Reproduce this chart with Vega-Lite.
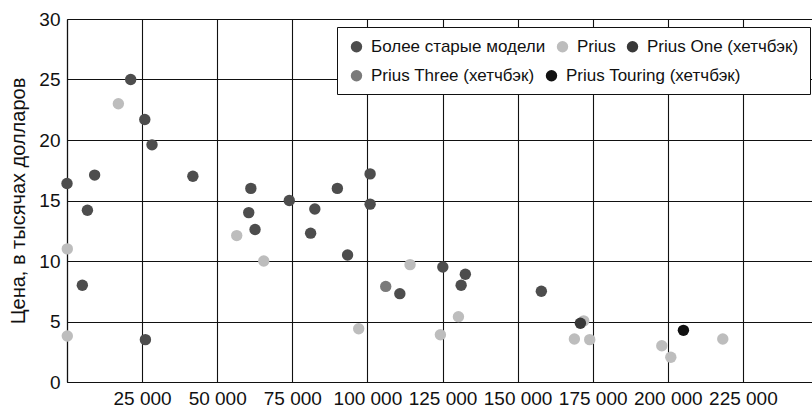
{
  "$schema": "https://vega.github.io/schema/vega-lite/v6.json",
  "width": 745,
  "height": 363,
  "autosize": {"type": "none"},
  "padding": {"left": 67, "top": 19, "right": 0, "bottom": 27},
  "background": "white",
  "config": {
    "font": "Liberation Sans",
    "view": {"stroke": null},
    "axis": {
      "domainColor": "#111",
      "domainWidth": 1.2,
      "gridColor": "#111",
      "gridOpacity": 1,
      "gridWidth": 1.1,
      "ticks": false,
      "labelFontSize": 19,
      "labelColor": "#111",
      "titleFontSize": 20,
      "titleFontWeight": "normal",
      "titleColor": "#111"
    },
    "legend": {
      "labelFontSize": 17,
      "labelColor": "#111",
      "labelLimit": 400,
      "symbolType": "circle",
      "symbolSize": 130,
      "symbolOpacity": 1,
      "symbolStrokeWidth": 0,
      "labelOffset": 6,
      "columnPadding": 8,
      "padding": 11
    }
  },
  "data": {
    "values": [
      {"g": "Более старые модели", "km": 0, "p": 16.4},
      {"g": "Более старые модели", "km": 9200, "p": 17.1},
      {"g": "Более старые модели", "km": 21200, "p": 25.0},
      {"g": "Более старые модели", "km": 25900, "p": 21.7},
      {"g": "Более старые модели", "km": 28300, "p": 19.6},
      {"g": "Более старые модели", "km": 41900, "p": 17.0},
      {"g": "Более старые модели", "km": 6800, "p": 14.2},
      {"g": "Более старые модели", "km": 5100, "p": 8.0},
      {"g": "Более старые модели", "km": 26100, "p": 3.5},
      {"g": "Более старые модели", "km": 61200, "p": 16.0},
      {"g": "Более старые модели", "km": 60500, "p": 14.0},
      {"g": "Более старые модели", "km": 62600, "p": 12.6},
      {"g": "Более старые модели", "km": 74000, "p": 15.0},
      {"g": "Более старые модели", "km": 82500, "p": 14.3},
      {"g": "Более старые модели", "km": 81100, "p": 12.3},
      {"g": "Более старые модели", "km": 90000, "p": 16.0},
      {"g": "Более старые модели", "km": 100900, "p": 17.2},
      {"g": "Более старые модели", "km": 100900, "p": 14.7},
      {"g": "Более старые модели", "km": 93400, "p": 10.5},
      {"g": "Более старые модели", "km": 125100, "p": 9.5},
      {"g": "Более старые модели", "km": 132600, "p": 8.9},
      {"g": "Более старые модели", "km": 131200, "p": 8.0},
      {"g": "Более старые модели", "km": 110800, "p": 7.3},
      {"g": "Более старые модели", "km": 157900, "p": 7.5},
      {"g": "Prius", "km": 100, "p": 11.0},
      {"g": "Prius", "km": 100, "p": 3.8},
      {"g": "Prius", "km": 17100, "p": 23.0},
      {"g": "Prius", "km": 56500, "p": 12.1},
      {"g": "Prius", "km": 65500, "p": 10.0},
      {"g": "Prius", "km": 114200, "p": 9.7},
      {"g": "Prius", "km": 97100, "p": 4.4},
      {"g": "Prius", "km": 124300, "p": 3.9},
      {"g": "Prius", "km": 130300, "p": 5.4},
      {"g": "Prius", "km": 172000, "p": 5.05},
      {"g": "Prius", "km": 168900, "p": 3.55},
      {"g": "Prius", "km": 174000, "p": 3.5},
      {"g": "Prius", "km": 198000, "p": 3.0},
      {"g": "Prius", "km": 201000, "p": 2.05},
      {"g": "Prius", "km": 218300, "p": 3.55},
      {"g": "Prius One (хетчбэк)", "km": 170900, "p": 4.85},
      {"g": "Prius Three (хетчбэк)", "km": 106100, "p": 7.9},
      {"g": "Prius Touring (хетчбэк)", "km": 205200, "p": 4.27}
    ]
  },
  "encoding": {
    "x": {
      "field": "km",
      "type": "quantitative",
      "scale": {"domain": [0, 248000], "nice": false, "zero": true},
      "axis": {
        "title": null,
        "values": [0, 25000, 50000, 75000, 100000, 125000, 150000, 175000, 200000, 225000],
        "labelExpr": "datum.value == 0 ? '' : replace(format(datum.value, ','), ',', ' ')",
        "labelPadding": 7
      }
    },
    "y": {
      "field": "p",
      "type": "quantitative",
      "scale": {"domain": [0, 30], "nice": false},
      "axis": {
        "title": "Цена, в тысячах долларов",
        "values": [0, 5, 10, 15, 20, 25, 30],
        "labelPadding": 7,
        "titlePadding": 10
      }
    }
  },
  "layer": [
    {
      "transform": [{"filter": {"field": "g", "oneOf": ["Более старые модели", "Prius", "Prius One (хетчбэк)"]}}],
      "mark": {"type": "circle", "size": 130, "opacity": 1},
      "encoding": {
        "color": {
          "field": "g",
          "type": "nominal",
          "scale": {
            "domain": ["Более старые модели", "Prius", "Prius One (хетчбэк)"],
            "range": ["#4d4d4d", "#bdbdbd", "#383838"]
          },
          "legend": {
            "title": " ",
            "titleOrient": "bottom",
            "titleFontSize": 17,
            "titlePadding": 12,
            "orient": "none",
            "legendX": 270,
            "legendY": 8,
            "direction": "horizontal",
            "fillColor": "white",
            "strokeColor": "#111"
          }
        }
      }
    },
    {
      "transform": [{"filter": {"field": "g", "oneOf": ["Prius Three (хетчбэк)", "Prius Touring (хетчбэк)"]}}],
      "mark": {"type": "circle", "size": 130, "opacity": 1},
      "encoding": {
        "fill": {
          "field": "g",
          "type": "nominal",
          "scale": {
            "domain": ["Prius Three (хетчбэк)", "Prius Touring (хетчбэк)"],
            "range": ["#7a7a7a", "#111111"]
          },
          "legend": {
            "title": null,
            "orient": "none",
            "legendX": 270,
            "legendY": 37,
            "direction": "horizontal"
          }
        }
      }
    }
  ]
}
